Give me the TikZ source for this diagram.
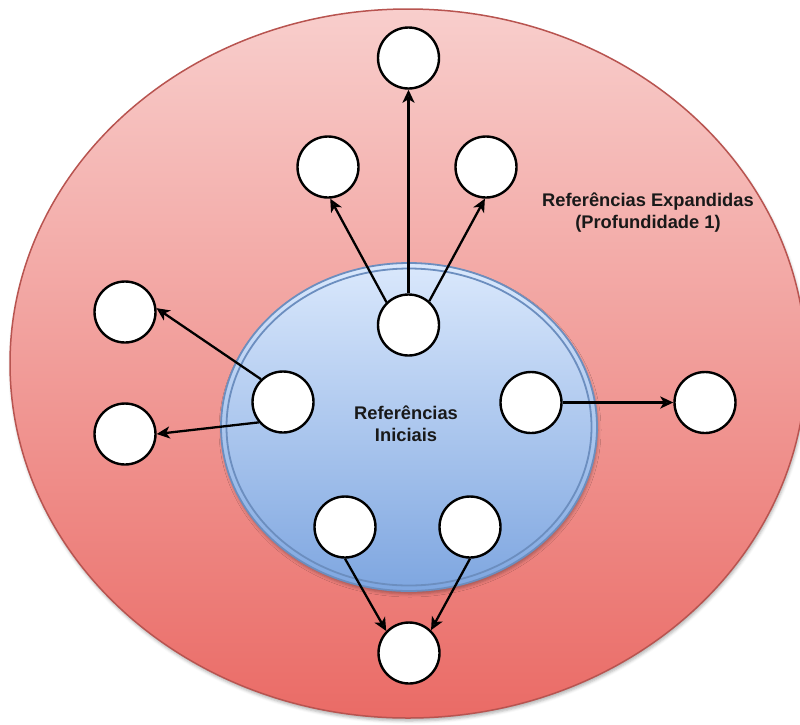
\documentclass[tikz,border=0pt]{standalone}
\usepackage{fontspec}
\setmainfont{Liberation Sans}
\usetikzlibrary{arrows.meta,shadows.blur}

\definecolor{redtop}{HTML}{F8CECC}
\definecolor{redbot}{HTML}{EA6B66}
\definecolor{redline}{HTML}{B85450}
\definecolor{bluetop}{HTML}{DAE8FC}
\definecolor{bluebot}{HTML}{7EA6E0}
\definecolor{blueline}{HTML}{6C8EBF}

\begin{document}
\begin{tikzpicture}[x=1pt,y=-1pt,
  ref/.style={circle,draw=black,line width=2.4pt,fill=white,minimum size=61pt,inner sep=0pt},
  link/.style={line width=2.3pt,-{Stealth[length=13pt,width=12pt,inset=3.5pt]}},
  areatext/.style={font=\bfseries\fontsize{18.3}{22}\selectfont,align=center,text=black!90},
  softshadow/.style={blur shadow={shadow xshift=1pt,shadow yshift=-3pt,shadow blur radius=3pt,shadow opacity=30}}]

  \useasboundingbox (0,0) rectangle (800,724);
  \clip (0,0) rectangle (800,724);

  % outer area: expanded references
  \path[softshadow,top color=redtop,bottom color=redbot,draw=redline,line width=1.5pt]
    (408,363.5) ellipse [x radius=398, y radius=354.5];

  % inner area: initial references (double border)
  \path[softshadow,top color=bluetop,bottom color=bluebot,draw=blueline,line width=1.8pt]
    (409,427) ellipse [x radius=188, y radius=164];
  \draw[blueline,line width=1.8pt] (409,427) ellipse [x radius=182.5, y radius=158.5];

  \node[areatext] (outerlbl) at (648,213) {Referências Expandidas\\(Profundidade 1)};
  \node[areatext] (innerlbl) at (406,424) {Referências\\Iniciais};

  % initial references
  \node[ref] (ct)  at (408.5,325) {};
  \node[ref] (il)  at (283,402) {};
  \node[ref] (ir)  at (531,402.5) {};
  \node[ref] (ibl) at (345,527) {};
  \node[ref] (ibr) at (470,527) {};

  % expanded references
  \node[ref] (top) at (408.5,58) {};
  \node[ref] (ul)  at (328,167) {};
  \node[ref] (ur)  at (486,167) {};
  \node[ref] (ol1) at (125,312) {};
  \node[ref] (ol2) at (125,434) {};
  \node[ref] (or)  at (705,402.5) {};
  \node[ref] (bot) at (409,653) {};

  \draw[link] (ct.90)   -- (top.270);
  \draw[link] (ct.134)  -- (ul.274);
  \draw[link] (ct.49)   -- (ur.268);
  \draw[link] (il.134)  -- (ol1.7);
  \draw[link] (il.220)  -- (ol2.0);
  \draw[link] (ir.0)    -- (or.180);
  \draw[link] (ibl.270) -- (bot.136);
  \draw[link] (ibr.270) -- (bot.46);
\end{tikzpicture}
\end{document}
